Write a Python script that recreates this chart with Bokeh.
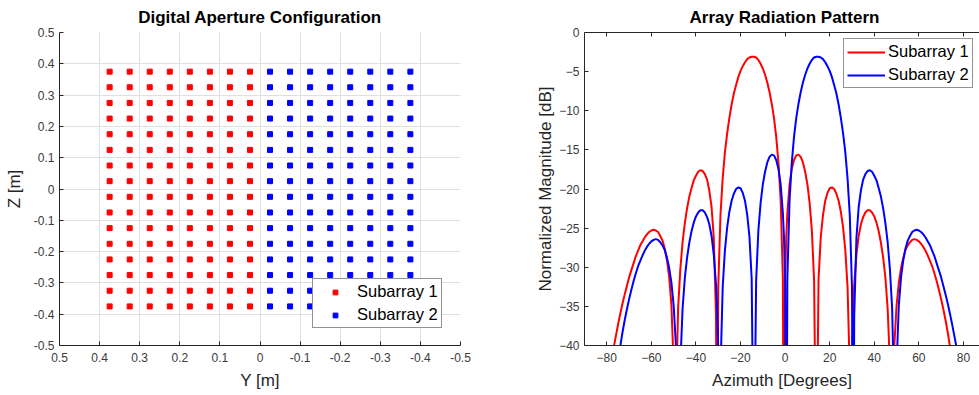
from bokeh.plotting import figure
from bokeh.layouts import row
from bokeh.models import (Range1d, FixedTicker, LinearAxis, Legend, LegendItem,
                          ColumnDataSource)
from bokeh.embed import file_html
from bokeh.resources import INLINE

# ---------------- data: digital aperture (element positions) ----------------
sub1_y = [0.375, 0.325, 0.275, 0.225, 0.175, 0.125, 0.075, 0.025]
sub2_y = [-0.025, -0.075, -0.125, -0.175, -0.225, -0.275, -0.325, -0.375]
elem_z = [0.375, 0.325, 0.275, 0.225, 0.175, 0.125, 0.075, 0.025,
          -0.025, -0.075, -0.125, -0.175, -0.225, -0.275, -0.325, -0.375]

left_ticks = [0.5, 0.4, 0.3, 0.2, 0.1, 0, -0.1, -0.2, -0.3, -0.4, -0.5]
left_tick_labels = ["0.5", "0.4", "0.3", "0.2", "0.1", "0", "-0.1", "-0.2", "-0.3", "-0.4", "-0.5"]

# ---------------- data: array radiation pattern ----------------
azimuth = [-90, -89, -88, -87, -86, -85, -84, -83, -82, -81,
           -80, -79, -78, -77, -76, -75, -74, -73, -72, -71,
           -70, -69, -68, -67, -66, -65, -64, -63, -62, -61,
           -60, -59, -58, -57, -56, -55, -54, -53, -52, -51,
           -50, -49, -48, -47, -46, -45, -44, -43, -42, -41,
           -40, -39, -38, -37, -36, -35, -34, -33, -32, -31,
           -30.6, -30, -29, -28, -27, -26, -25, -24, -23, -22, -21,
           -20, -19, -18, -17, -16, -15, -14, -13, -12, -11,
           -10, -9, -8, -7, -6, -5, -4, -3, -2, -1,
           -0.5, 0, 0.5,
           1, 2, 3, 4, 5, 6, 7, 8, 9, 10,
           11, 12, 13, 14, 15, 16, 17, 18, 19, 20,
           21, 22, 23, 24, 25, 26, 27, 28, 29, 30, 30.6,
           31, 32, 33, 34, 35, 36, 37, 38, 39, 40,
           41, 42, 43, 44, 45, 46, 47, 48, 49, 50,
           51, 52, 53, 54, 55, 56, 57, 58, 59, 60,
           61, 62, 63, 64, 65, 66, 67, 68, 69, 70,
           71, 72, 73, 74, 75, 76, 77, 78, 79, 80,
           81, 82, 83, 84, 85, 86, 87, 88, 89, 90]

subarray1_db = [-120, -74.2, -67.8, -63.6, -60.2, -57.3, -54.6, -52.2, -49.9, -47.7,
                -45.7, -43.9, -42.1, -40.4, -38.9, -37.4, -36.0, -34.7, -33.5, -32.4,
                -31.3, -30.4, -29.5, -28.6, -27.9, -27.2, -26.7, -26.2, -25.8, -25.5,
                -25.3, -25.2, -25.3, -25.5, -26.0, -26.6, -27.6, -29.1, -31.3, -34.9,
                -42.6, -47.2, -35.2, -30.2, -26.8, -24.4, -22.5, -21.0, -19.9, -18.9,
                -18.3, -17.8, -17.6, -17.7, -18.1, -18.8, -20.2, -22.3, -26.2, -36.2,
                -64.9, -32.6, -23.3, -18.6, -15.3, -12.9, -10.9, -9.2, -7.8, -6.7, -5.7,
                -4.9, -4.3, -3.8, -3.4, -3.2, -3.1, -3.1, -3.2, -3.5, -4.0,
                -4.6, -5.4, -6.4, -7.6, -9.1, -10.9, -13.3, -16.6, -21.4, -31.5,
                -71.1, -31.9, -26.2,
                -23.1, -19.4, -17.4, -16.3, -15.7, -15.6, -15.9, -16.6, -17.8, -19.4,
                -21.8, -25.3, -31.7, -58.7, -31.5, -26.1, -23.3, -21.5, -20.5, -19.9,
                -19.8, -20.0, -20.6, -21.5, -22.9, -24.9, -27.8, -32.5, -43.2, -40.6, -34.6,
                -32.2, -28.4, -26.0, -24.5, -23.6, -23.0, -22.7, -22.7, -23.0, -23.5,
                -24.3, -25.4, -26.9, -28.8, -31.4, -35.3, -42.3, -56.5, -39.9, -34.9,
                -32.0, -30.1, -28.8, -27.8, -27.2, -26.8, -26.5, -26.4, -26.5, -26.7,
                -27.0, -27.4, -27.9, -28.5, -29.2, -29.9, -30.8, -31.8, -32.9, -34.1,
                -35.4, -36.8, -38.4, -40.2, -42.1, -44.3, -46.7, -49.6, -53.0, -57.3,
                -63.4, -76.1, -73.7, -67.3, -65.3, -65.2, -66.3, -69.0, -74.6, -120]

subarray2_db = [-120, -74.6, -69.0, -66.3, -65.2, -65.3, -67.3, -73.7, -76.1, -63.4,
                -57.3, -53.0, -49.6, -46.7, -44.3, -42.1, -40.2, -38.4, -36.8, -35.4,
                -34.1, -32.9, -31.8, -30.8, -29.9, -29.2, -28.5, -27.9, -27.4, -27.0,
                -26.7, -26.5, -26.4, -26.5, -26.8, -27.2, -27.8, -28.8, -30.1, -32.0,
                -34.9, -39.9, -56.5, -42.3, -35.3, -31.4, -28.8, -26.9, -25.4, -24.3,
                -23.5, -23.0, -22.7, -22.7, -23.0, -23.6, -24.5, -26.0, -28.4, -32.2,
                -34.6, -40.6, -43.2, -32.5, -27.8, -24.9, -22.9, -21.5, -20.6, -20.0, -19.8,
                -19.9, -20.5, -21.5, -23.3, -26.1, -31.5, -58.7, -31.7, -25.3, -21.8,
                -19.4, -17.8, -16.6, -15.9, -15.6, -15.7, -16.3, -17.4, -19.4, -23.1,
                -26.2, -31.9, -71.1,
                -31.5, -21.4, -16.6, -13.3, -10.9, -9.1, -7.6, -6.4, -5.4, -4.6,
                -4.0, -3.5, -3.2, -3.1, -3.1, -3.2, -3.4, -3.8, -4.3, -4.9,
                -5.7, -6.7, -7.8, -9.2, -10.9, -12.9, -15.3, -18.6, -23.3, -32.6, -64.9,
                -36.2, -26.2, -22.3, -20.2, -18.8, -18.1, -17.7, -17.6, -17.8, -18.3,
                -18.9, -19.9, -21.0, -22.5, -24.4, -26.8, -30.2, -35.2, -47.2, -42.6,
                -34.9, -31.3, -29.1, -27.6, -26.6, -26.0, -25.5, -25.3, -25.2, -25.3,
                -25.5, -25.8, -26.2, -26.7, -27.2, -27.9, -28.6, -29.5, -30.4, -31.3,
                -32.4, -33.5, -34.7, -36.0, -37.4, -38.9, -40.4, -42.1, -43.9, -45.7,
                -47.7, -49.9, -52.2, -54.6, -57.3, -60.2, -63.6, -67.8, -74.2, -120]

az_ticks = [-80, -60, -40, -20, 0, 20, 40, 60, 80]
db_ticks = [-40, -35, -30, -25, -20, -15, -10, -5, 0]

series_names = ["Subarray 1", "Subarray 2"]

# ---------------- styling ----------------
FONT = "Liberation Sans"
AX = "#262626"
TICK_TXT = "#3a3a3a"
RED = "#ff0000"
BLUE = "#0000ff"


def style_axis(ax, label, ticks, overrides=None, standoff_label=5):
    ax.ticker = FixedTicker(ticks=ticks)
    if overrides:
        ax.major_label_overrides = overrides
    ax.axis_label = label
    ax.axis_label_text_font = FONT
    ax.axis_label_text_font_size = "17px"
    ax.axis_label_text_font_style = "normal"
    ax.axis_label_text_color = AX
    ax.axis_label_standoff = standoff_label
    ax.major_label_text_font = FONT
    ax.major_label_text_font_size = "12px"
    ax.major_label_text_color = TICK_TXT
    ax.major_label_standoff = 5
    ax.major_tick_in = 4
    ax.major_tick_out = 0
    ax.minor_tick_line_color = None
    ax.axis_line_color = AX
    ax.major_tick_line_color = AX


def style_title(t):
    t.text_font = FONT
    t.text_font_size = "17px"
    t.text_font_style = "bold"
    t.text_color = "#000000"
    t.standoff = 11


# ---------------- left figure ----------------
p1 = figure(width=520, height=395, output_backend="svg", toolbar_location=None,
            x_range=Range1d(0.5, -0.5), y_range=Range1d(-0.5, 0.5),
            min_border_left=59, min_border_right=60, min_border_top=31,
            min_border_bottom=50, title="Digital Aperture Configuration")
style_title(p1.title)
p1.title.align = "center"
p1.outline_line_color = None
p1.background_fill_color = "white"

ov = dict(zip(left_ticks, left_tick_labels))
style_axis(p1.xaxis[0], "Y [m]", left_ticks, ov, 6)
p1.xaxis[0].major_label_standoff = 7
style_axis(p1.yaxis[0], "Z [m]", left_ticks, ov, 7)
for g in p1.grid:
    g.ticker = FixedTicker(ticks=left_ticks)
    g.grid_line_color = "#dfdfdf"
    g.grid_line_width = 1

src1 = ColumnDataSource(dict(y=[yy for yy in sub1_y for zz in elem_z],
                             z=[zz for yy in sub1_y for zz in elem_z]))
src2 = ColumnDataSource(dict(y=[yy for yy in sub2_y for zz in elem_z],
                             z=[zz for yy in sub2_y for zz in elem_z]))
r1 = p1.scatter("y", "z", source=src1, marker="square", size=5, fill_color=RED, line_color=RED)
r2 = p1.scatter("y", "z", source=src2, marker="square", size=5, fill_color=BLUE, line_color=BLUE)


def style_legend(leg):
    leg.label_text_font = FONT
    leg.label_text_font_size = "16.5px"
    leg.label_text_color = "#000000"
    leg.glyph_width = 38
    leg.glyph_height = 12
    leg.label_standoff = 3
    leg.label_height = 19
    leg.padding = 3
    leg.spacing = 4
    leg.margin = 0
    leg.border_line_color = AX
    leg.border_line_width = 1
    leg.background_fill_color = "white"
    leg.background_fill_alpha = 1.0


leg1 = Legend(items=[LegendItem(label=series_names[0], renderers=[r1]),
                     LegendItem(label=series_names[1], renderers=[r2])],
              location=(253, 17))
style_legend(leg1)
p1.add_layout(leg1)

# ---------------- right figure ----------------
p2 = figure(width=459, height=395, output_backend="svg", toolbar_location=None,
            x_range=Range1d(-90, 87.2), y_range=Range1d(-40, 0),
            min_border_left=64, min_border_right=0, min_border_top=31,
            min_border_bottom=50, title="Array Radiation Pattern")
style_title(p2.title)
p2.title.align = "left"
p2.title.offset = 105
p2.outline_line_color = None
p2.grid.visible = False

style_axis(p2.xaxis[0], "Azimuth [Degrees]", az_ticks, None, 6)
p2.xaxis[0].major_label_standoff = 7
style_axis(p2.yaxis[0], "Normalized Magnitude [dB]", db_ticks, None, 1)

top_ax = LinearAxis(ticker=FixedTicker(ticks=az_ticks), major_label_text_font_size="1px",
                    major_label_text_color=None, major_label_standoff=0,
                    major_tick_in=4, major_tick_out=0,
                    minor_tick_line_color=None, axis_line_color=AX, major_tick_line_color=AX)
p2.add_layout(top_ax, "above")

l1 = p2.line(azimuth, subarray1_db, line_color=RED, line_width=2)
l2 = p2.line(azimuth, subarray2_db, line_color=BLUE, line_width=2)

leg2 = Legend(items=[LegendItem(label=series_names[0], renderers=[l1]),
                     LegendItem(label=series_names[1], renderers=[l2])],
              location=(259, 257))
style_legend(leg2)
p2.add_layout(leg2)

layout = row(p1, p2)
open("out.html", "w").write(file_html(layout, INLINE))
